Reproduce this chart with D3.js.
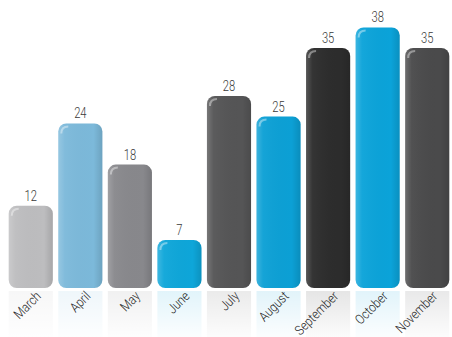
<!DOCTYPE html>
<html>
<head>
<meta charset="utf-8">
<script src="https://cdn.jsdelivr.net/npm/d3@7"></script>
<style>
  html, body { margin: 0; padding: 0; background: #fff; }
  svg { display: block; }
</style>
</head>
<body>
<svg id="chart" width="452" height="337"></svg>
<script>
const months = ['March', 'April', 'May', 'June', 'July', 'August', 'September', 'October', 'November'];
const values = [12, 24, 18, 7, 28, 25, 35, 38, 35];
const barColors = ['#bdbdbf', '#7cb9da', '#88888c', '#0ea6d9', '#555556', '#0ca0d5', '#2c2c2c', '#0ba3d9', '#4a4a4b'];

const width = 452;
const height = 337;
const baseY = 288;
const fontFam = 'Roboto, "DejaVu Sans", sans-serif';

const svg = d3.select('#chart');
const defs = svg.append('defs');

// x scale
const x = d3.scaleBand()
    .domain(months)
    .range([6, width])
    .paddingInner(0.11)
    .paddingOuter(0.055);

// y scale
const y = d3.scaleLinear()
    .domain([0, 42])
    .range([baseY, 0]);

// glossy side shading
const shade = defs.append('linearGradient')
    .attr('id', 'shade')
    .attr('x1', 0).attr('x2', 1).attr('y1', 0).attr('y2', 0);
shade.append('stop').attr('offset', '0%').attr('stop-color', '#fff').attr('stop-opacity', 0.2);
shade.append('stop').attr('offset', '15%').attr('stop-color', '#fff').attr('stop-opacity', 0.04);
shade.append('stop').attr('offset', '80%').attr('stop-color', '#000').attr('stop-opacity', 0);
shade.append('stop').attr('offset', '100%').attr('stop-color', '#000').attr('stop-opacity', 0.12);

// reflection fade
const fade = defs.append('linearGradient')
    .attr('id', 'fade')
    .attr('x1', 0).attr('x2', 0).attr('y1', 0).attr('y2', 1);
fade.append('stop').attr('offset', '0%').attr('stop-color', '#fff').attr('stop-opacity', 0.6);
fade.append('stop').attr('offset', '100%').attr('stop-color', '#fff').attr('stop-opacity', 0.95);

const bars = svg.selectAll('.bar')
    .data(months)
    .enter()
    .append('g')
    .attr('class', 'bar');

// reflection below the bars
bars.append('rect')
    .attr('x', d => x(d))
    .attr('y', baseY + 3)
    .attr('width', x.bandwidth())
    .attr('height', height - baseY - 3)
    .attr('fill', (d, i) => barColors[i])
    .attr('opacity', 0.3);

bars.append('rect')
    .attr('x', d => x(d) - 1)
    .attr('y', baseY + 3)
    .attr('width', x.bandwidth() + 2)
    .attr('height', height - baseY - 3)
    .attr('fill', 'url(#fade)');

// the bars
bars.append('rect')
    .attr('x', d => x(d))
    .attr('y', (d, i) => y(values[i]))
    .attr('width', x.bandwidth())
    .attr('height', (d, i) => baseY - y(values[i]))
    .attr('rx', 8)
    .attr('fill', (d, i) => barColors[i]);

bars.append('rect')
    .attr('x', d => x(d))
    .attr('y', (d, i) => y(values[i]))
    .attr('width', x.bandwidth())
    .attr('height', (d, i) => baseY - y(values[i]))
    .attr('rx', 8)
    .attr('fill', 'url(#shade)');

// little highlight on top left corner
bars.append('path')
    .attr('d', (d, i) => {
        const x0 = x(d) + 3, y0 = y(values[i]) + 3;
        return 'M' + x0 + ',' + (y0 + 7) + ' Q' + x0 + ',' + y0 + ' ' + (x0 + 7) + ',' + y0;
    })
    .attr('fill', 'none')
    .attr('stroke', '#fff')
    .attr('stroke-opacity', 0.4)
    .attr('stroke-width', 2);

// value labels (condensed look)
bars.append('text')
    .attr('transform', (d, i) => 'translate(' + (x(d) + x.bandwidth() / 2) + ',' + (y(values[i]) - 5) + ') scale(0.8,1)')
    .attr('text-anchor', 'middle')
    .style('font-family', fontFam)
    .style('font-weight', 300)
    .style('font-size', '14px')
    .attr('fill', '#3a3a3a')
    .text((d, i) => values[i]);

// month labels
bars.append('text')
    .attr('transform', d => 'translate(' + (x(d) + x.bandwidth() / 2 + 11) + ',' + (baseY + 9) + ') rotate(-45) scale(0.85,1)')
    .attr('text-anchor', 'end')
    .style('font-family', fontFam)
    .style('font-weight', 300)
    .style('font-size', '13.5px')
    .attr('fill', '#222')
    .text(d => d);
</script>
</body>
</html>
